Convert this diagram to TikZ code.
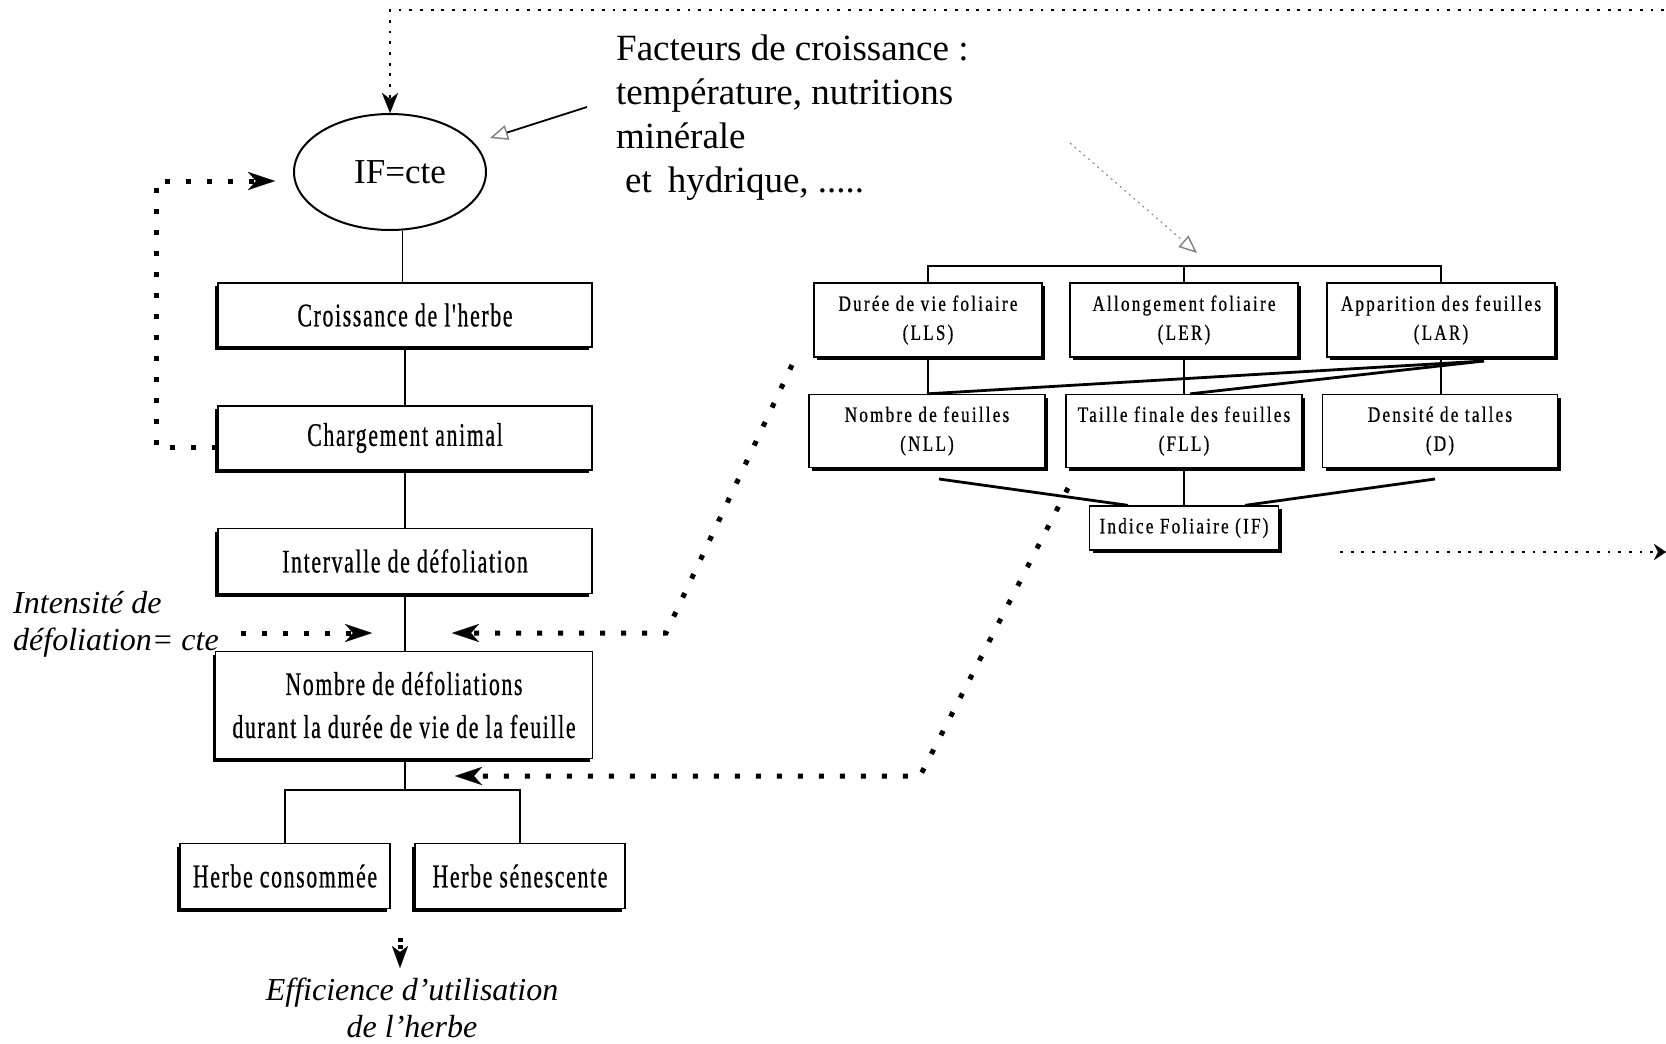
\documentclass[tikz,border=0pt]{standalone}
\usepackage{fontspec}
\setmainfont{Liberation Serif}
\newfontfamily\boxfont[FakeStretch=0.66,LetterSpace=5,FakeBold=0.6]{Liberation Serif}
\newfontfamily\sboxfont[FakeStretch=0.78,LetterSpace=10,FakeBold=0.6]{Liberation Serif}
\usetikzlibrary{arrows.meta,shapes.geometric,shadows}
\tikzset{
  bigbox/.style={draw, line width=1.4pt, fill=white, inner sep=0pt, align=center,
    font=\boxfont\fontsize{33}{43}\selectfont},
  sbox/.style={draw, line width=1.3pt, fill=white, inner sep=0pt, align=center,
    font=\sboxfont\fontsize{22}{29}\selectfont},
  lshadow/.style={drop shadow={shadow xshift=-3pt, shadow yshift=-3pt, fill=black, opacity=1}},
  rshadow/.style={drop shadow={shadow xshift=3pt, shadow yshift=-3pt, fill=black, opacity=1}},
  conn/.style={line width=1.5pt},
  heavy/.style={line width=2.8pt},
  bigdots/.style={line width=5pt, dash pattern=on 5pt off 16pt},
  smalldots/.style={line width=2.8pt, dash pattern=on 2.8pt off 7.9pt},
  bigtip/.tip={Stealth[length=27pt, width=18pt, inset=8pt, line width=0.1pt]},
  smalltip/.tip={Stealth[length=20pt, width=16pt, inset=6pt, line width=0.1pt]},
  opentip/.tip={Triangle[open, length=18pt, width=15pt, line width=1.4pt, color=gray]},
}
\begin{document}
\begin{tikzpicture}[x=1pt,y=-1pt]
\useasboundingbox (0,0) rectangle (1666,1044);

% ellipse
\node[ellipse, draw, line width=2pt, minimum width=192pt, minimum height=116pt, inner sep=0pt,
  font=\fontsize{35}{40}\selectfont] (ell) at (390,172) {\hspace*{20pt}\raisebox{-4pt}{IF=cte}};

% left column boxes
\node[bigbox, lshadow, minimum width=374pt, minimum height=64pt] (croiss) at (405,315) {Croissance de l'herbe};
\node[bigbox, lshadow, minimum width=374pt, minimum height=64pt] (charg) at (405,438) {Chargement animal};
\node[bigbox, lshadow, minimum width=374pt, minimum height=65pt] (interv) at (405,561) {Intervalle de défoliation};
\node[bigbox, lshadow, minimum width=377pt, minimum height=107pt] (nombre) at (404,705) {Nombre de défoliations\\durant la durée de vie de la feuille};
\node[bigbox, lshadow, minimum width=210pt, minimum height=65pt] (herbec) at (285,876) {Herbe consommée};
\node[bigbox, lshadow, minimum width=210pt, minimum height=65pt] (herbes) at (520,876) {Herbe sénescente};

% right boxes
\node[sbox, rshadow, minimum width=228pt, minimum height=74pt] (lls) at (928,320) {Durée de vie foliaire\\(LLS)};
\node[sbox, rshadow, minimum width=228pt, minimum height=74pt] (ler) at (1184,320) {Allongement foliaire\\(LER)};
\node[sbox, rshadow, minimum width=228pt, minimum height=74pt] (lar) at (1441,320) {Apparition des feuilles\\(LAR)};
\node[sbox, rshadow, minimum width=236pt, minimum height=73pt] (nll) at (927,431) {Nombre de feuilles\\(NLL)};
\node[sbox, rshadow, minimum width=236pt, minimum height=73pt] (fll) at (1184,431) {Taille finale des feuilles\\(FLL)};
\node[sbox, rshadow, minimum width=235pt, minimum height=73pt] (dd) at (1440,431) {Densité de talles\\(D)};
\node[sbox, rshadow, minimum width=189pt, minimum height=44pt] (indice) at (1184,528) {Indice Foliaire (IF)};

% texts
\node[anchor=north west, align=left, inner sep=0pt, font=\fontsize{37}{44}\selectfont] (fact) at (616,35)
  {Facteurs de croissance :\\température, nutritions\\minérale\\\hspace*{9pt}et\hspace{16pt}hydrique, .....};
\node[anchor=north west, align=left, inner sep=0pt, font=\itshape\fontsize{32}{37}\selectfont] (inten) at (13,591)
  {Intensité de\\défoliation= cte};
\node[anchor=north, align=center, inner sep=0pt, font=\itshape\fontsize{32}{37}\selectfont] (eff) at (412,978)
  {Efficience d’utilisation\\de l’herbe};

% left column connectors
\draw[conn] (ell.-78) -- (ell.-78 |- croiss.north);
\draw[conn] (croiss.south) -- (charg.north);
\draw[conn] (charg.south) -- (interv.north);
\draw[conn] (interv.south) -- (interv.south |- nombre.north);
\coordinate (br) at (405,790);
\draw[conn] (nombre.south -| br) -- (br);
\draw[conn] (herbec.north) -- (herbec.north |- br) -- (herbes.north |- br) -- (herbes.north);

% right connectors
\coordinate (brk) at (1184,266);
\draw[conn] (lls.north) -- (lls.north |- brk) -- (lar.north |- brk) -- (lar.north);
\draw[conn] (ler.north) -- (ler.north |- brk);
\draw[conn] (lls.south) -- (lls.south |- nll.north);
\draw[conn] (ler.south) -- (fll.north);
\draw[conn] (lar.south) -- (lar.south |- dd.north);
\coordinate (dj) at (1484,361);
\draw[heavy] (dj) -- (nll.north);
\draw[heavy] (dj) -- ([xshift=6pt]fll.north);
\draw[conn] (fll.south) -- (indice.north);
\coordinate (ibl) at (939,479);
\coordinate (ibr) at (1435,479);
\draw[heavy] (ibl) -- ([xshift=-56pt]indice.north);
\draw[heavy] (ibr) -- ([xshift=61pt]indice.north);

% dotted arrows
\coordinate (ftop) at (1664,10);
\draw[smalldots, -smalltip] (ftop) -- (ell.north |- ftop) -- (ell.north);
\coordinate (fbA) at (156,447);
\coordinate (fbB) at (156,181);
\coordinate (fbT) at (275,181);
\draw[bigdots, -bigtip] (charg.west |- fbA) -- (fbA) -- (fbB) -- (fbT);
\coordinate (iA) at (241,633);
\coordinate (iT) at (372,633);
\draw[bigdots, -bigtip] (iA) -- (iT);
\coordinate (d1s) at (792,365);
\coordinate (d1c) at (666,633);
\coordinate (d1t) at (452,633);
\draw[bigdots, -bigtip] (d1s) -- (d1c) -- (d1t);
\coordinate (d2s) at (1068,488);
\coordinate (d2c) at (920,776);
\coordinate (d2t) at (455,776);
\draw[bigdots, -bigtip] (d2s) -- (d2c) -- (d2t);
\coordinate (d6s) at (1340,552);
\coordinate (d6t) at (1666,552);
\draw[smalldots, -{Stealth[length=12pt, width=16pt, inset=4pt, line width=0.1pt]}] (d6s) -- (d6t);
\coordinate (d7s) at (400,938);
\coordinate (d7t) at (400,968);
\draw[bigdots, dash pattern=on 4pt off 3pt, -{Stealth[length=22pt, width=16pt, inset=6pt, line width=0.1pt]}] (d7s) -- (d7t);

% grey arrows
\coordinate (g1s) at (587,107);
\coordinate (g1t) at (490,138);
\draw[line width=1.8pt, -opentip] (g1s) -- (g1t);
\coordinate (g2s) at (1070,143);
\coordinate (g2t) at (1197,253);
\draw[gray, line width=1pt, dash pattern=on 2pt off 4pt, -opentip] (g2s) -- (g2t);
\end{tikzpicture}
\end{document}
